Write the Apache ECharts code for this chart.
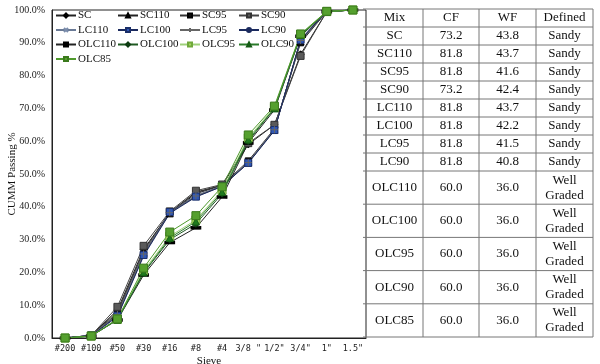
<!DOCTYPE html>
<html><head><meta charset="utf-8">
<script src="https://cdn.jsdelivr.net/npm/echarts@6/dist/echarts.min.js"></script>
<style>html,body{margin:0;padding:0;background:#fff}#c{width:600px;height:364px}</style>
</head><body><div id="c"></div>
<script>
var sieves = ['#200','#100','#50','#30','#16','#8','#4','3/8 "','1/2"','3/4"','1"','1.5"'];
var yTicks = [0,10,20,30,40,50,60,70,80,90,100];
var SC     = [0,0.8,8.5,27.0,38.2,44.5,46.5,59.0,65.0,86.5,99.5,100];
var SC110  = [0,0.7,7.5,26.0,38.0,44.0,46.5,53.5,63.5,90.5,99.5,100];
var SC95   = [0,0.8,8.0,26.5,38.3,44.3,46.6,54.0,63.8,90.0,99.5,100];
var SC90   = [0,0.8,9.5,28.1,38.6,44.9,46.8,59.4,65.0,86.0,99.5,100];
var LC110  = [0,0.8,7.0,25.8,38.3,43.5,46.4,53.6,63.6,90.6,99.6,100];
var LC100  = [0,0.8,6.8,25.3,38.4,43.1,46.3,53.4,63.4,90.9,99.6,100];
var LC95   = [0,0.8,7.2,25.6,38.2,43.3,46.3,53.5,63.5,90.7,99.6,100];
var LC90   = [0,0.7,6.5,25.0,38.0,43.0,46.2,53.3,63.2,91.0,99.6,100];
var OLC110 = [0,0.6,5.5,19.2,29.1,33.6,43.0,59.5,69.5,92.0,99.5,100];
var OLC100 = [0,0.6,5.6,19.8,30.0,34.8,44.0,60.0,70.0,92.2,99.5,100];
var OLC95  = [0,0.6,5.7,20.5,31.0,36.0,45.0,61.0,70.3,92.5,99.5,100];
var OLC90  = [0,0.6,5.6,20.0,30.5,35.5,44.5,60.5,70.0,92.4,99.5,100];
var OLC85  = [0,0.6,5.8,21.3,32.3,37.3,46.1,61.9,70.7,92.7,99.6,100];

var tableHeader = ['Mix','CF','WF','Defined'];
var tableMix = ['SC','SC110','SC95','SC90','LC110','LC100','LC95','LC90','OLC110','OLC100','OLC95','OLC90','OLC85'];
var tableCF = ['73.2','81.8','81.8','73.2','81.8','81.8','81.8','81.8','60.0','60.0','60.0','60.0','60.0'];
var tableWF = ['43.8','43.7','41.6','42.4','43.7','42.2','41.5','40.8','36.0','36.0','36.0','36.0','36.0'];
var tableDef = ['Sandy','Sandy','Sandy','Sandy','Sandy','Sandy','Sandy','Sandy','Well\nGraded','Well\nGraded','Well\nGraded','Well\nGraded','Well\nGraded'];

var serif = 'Liberation Serif';
var X_PATH = 'path://M0,0L10,10M10,0L0,10';
var PLUS_PATH = 'path://M5,0L5,10M0,5L10,5';

function mk(name, data, sym, size, fill, border, line, lw) {
  return {
    name: name, type: 'line', data: data, symbol: sym, symbolSize: size,
    showSymbol: sym !== 'none',
    lineStyle: {color: line, width: lw || 1},
    itemStyle: {color: fill, borderColor: border, borderWidth: 1},
    emphasis: {disabled: true}, animation: false, z: 3
  };
}
var series = [
  mk('SC', SC, 'diamond', 7, '#000', '#000', '#222'),
  mk('SC110', SC110, 'triangle', 7, '#000', '#000', '#222'),
  mk('SC95', SC95, 'rect', 6, '#111', '#000', '#333'),
  mk('SC90', SC90, 'rect', 7, '#5a5a5a', '#333', '#444'),
  mk('LC110', LC110, X_PATH, 6, '#7a8cab', '#7a8cab', '#6a7a96'),
  mk('LC100', LC100, 'rect', 7, '#2f58b8', '#1b2f6a', '#1b2a5e'),
  mk('LC95', LC95, PLUS_PATH, 7, '#666', '#666', '#666'),
  mk('LC90', LC90, 'none', 4, '#1b2a5e', '#1b2a5e', '#1b2a5e'),
  mk('OLC110', OLC110, 'rect', [9,3], '#000', '#000', '#222'),
  mk('OLC100', OLC100, 'diamond', 7, '#14501a', '#0c3a10', '#1f5a22'),
  mk('OLC95', OLC95, 'rect', 8, '#a4d65e', '#6fa83a', '#9fd07a'),
  mk('OLC90', OLC90, 'triangle', 7, '#1e7a1e', '#145a14', '#2a7a2a'),
  mk('OLC85', OLC85, 'rect', 8, '#55a02e', '#3b7a1c', '#4f9a2c')
];

var legCols = [
  {left: 55, names: ['SC','LC110','OLC110','OLC85']},
  {left: 117, names: ['SC110','LC100','OLC100']},
  {left: 179, names: ['SC95','LC95','OLC95']},
  {left: 238, names: ['SC90','LC90','OLC90']}
];
var legends = legCols.map(function(c){
  return {orient: 'vertical', left: c.left, top: 10, data: c.names, itemWidth: 20, itemHeight: 5,
    itemGap: 3.5, padding: 0, selectedMode: false,
    textStyle: {fontFamily: serif, fontSize: 11, color: '#111', padding: [0,0,0,-3]}};
});

// table graphics
var colX = [366, 423, 479, 536, 593];
var rowY = [9];
for (var i = 0; i < 9; i++) rowY.push(rowY[rowY.length-1] + 18);
for (var j = 0; j < 5; j++) rowY.push(rowY[rowY.length-1] + 33.2);
var g = [];
var lineC = '#777';
rowY.forEach(function(y, k){
  g.push({type:'line', silent:true, shape:{x1:colX[0] - 3, y1:y, x2:colX[4], y2:y}, style:{stroke: lineC, lineWidth:1}});
});
colX.forEach(function(x, k){
  if (k === 0) return;
  g.push({type:'line', silent:true, shape:{x1:x, y1:rowY[0], x2:x, y2:rowY[rowY.length-1]}, style:{stroke: lineC, lineWidth:1}});
});
function cellText(txt, ci, ri) {
  var cx = (colX[ci] + colX[ci+1]) / 2;
  var cy = (rowY[ri] + rowY[ri+1]) / 2;
  g.push({type:'text', silent:true, x: cx, y: cy, style:{text: txt, fill:'#111', font: '13px "Liberation Serif"', align:'center', verticalAlign:'middle', lineHeight: 15}});
}
tableHeader.forEach(function(t, ci){ cellText(t, ci, 0); });
tableMix.forEach(function(m, r){
  cellText(m, 0, r+1); cellText(tableCF[r], 1, r+1); cellText(tableWF[r], 2, r+1); cellText(tableDef[r], 3, r+1);
});

var chart = echarts.init(document.getElementById('c'), null, {renderer: 'canvas'});
chart.setOption({
  animation: false,
  backgroundColor: '#fff',
  grid: {left: 52, right: 234, top: 10, bottom: 26, show: true, borderColor: '#222', borderWidth: 1, containLabel: false, outerBoundsMode: 'none'},
  legend: legends,
  xAxis: {
    type: 'category', data: sieves, boundaryGap: true,
    axisLine: {lineStyle: {color: '#222', width: 1}}, axisTick: {show: false},
    axisLabel: {fontFamily: 'DejaVu Sans Mono', fontSize: 8.5, color: '#222', margin: 6, interval: 0},
    name: 'Sieve', nameLocation: 'middle', nameGap: 18, nameMoveOverlap: false,
    nameTextStyle: {fontFamily: serif, fontSize: 11, color: '#111'}
  },
  yAxis: {
    type: 'value', min: yTicks[0], max: yTicks[yTicks.length-1], interval: 10,
    axisLine: {show: true, lineStyle: {color: '#222', width: 1}}, axisTick: {show: false},
    splitLine: {show: false},
    axisLabel: {fontFamily: serif, fontSize: 10, color: '#222', margin: 7, formatter: function(v){ return v.toFixed(1) + '%'; }},
    name: 'CUMM Passing %', nameLocation: 'middle', nameGap: 34, nameMoveOverlap: false,
    nameTextStyle: {fontFamily: serif, fontSize: 11, color: '#111'}
  },
  graphic: g,
  series: series
});
</script></body></html>
